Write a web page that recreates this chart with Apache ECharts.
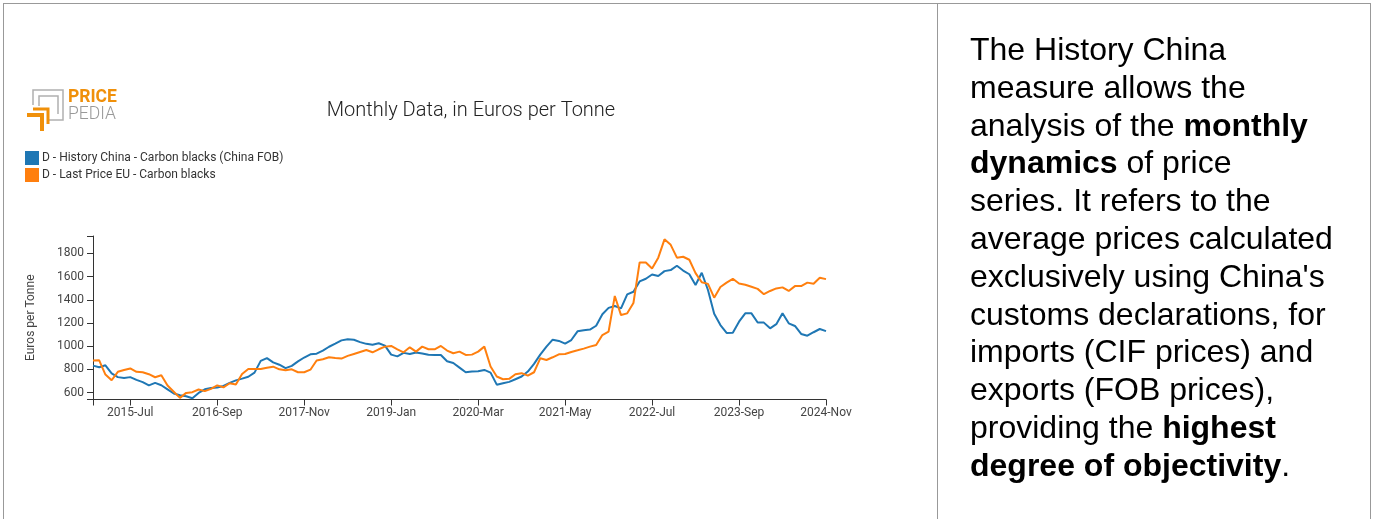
<!DOCTYPE html>
<html>
<head>
<meta charset="utf-8">
<script src="https://cdn.jsdelivr.net/npm/echarts@6/dist/echarts.min.js"></script>
<style>
  html, body { margin: 0; padding: 0; background: #fff; }
  #chart { position: absolute; left: 0; top: 0; width: 1374px; height: 519px; }
  .frame { position: absolute; left: 3px; top: 3px; width: 1366px; height: 600px;
    border-top: 1px solid #999; border-left: 1px solid #999; border-right: 1px solid #999; }
  .divider { position: absolute; left: 937px; top: 3px; width: 0; height: 600px; border-left: 1px solid #999; }
  .note { position: absolute; left: 970px; top: 31px; font-family: "Liberation Sans", Arial, sans-serif;
    font-size: 32px; line-height: 37.8px; color: #000; white-space: nowrap; }
</style>
</head>
<body>
<div id="chart"></div>
<div class="frame"></div>
<div class="divider"></div>
<div class="note">
The History China<br>
measure allows the<br>
analysis of the <b>monthly</b><br>
<b>dynamics</b> of price<br>
series. It refers to the<br>
average prices calculated<br>
exclusively using China's<br>
customs declarations, for<br>
imports (CIF prices) and<br>
exports (FOB prices),<br>
providing the <b>highest</b><br>
<b>degree of objectivity</b>.
</div>
<script>
// months 2015-Jan .. 2024-Nov
const monthNames = ['Jan', 'Feb', 'Mar', 'Apr', 'May', 'Jun', 'Jul', 'Aug', 'Sep', 'Oct', 'Nov', 'Dec']
const months = []
for (let y = 2015; y <= 2024; y++) {
  for (let m = 0; m < 12; m++) {
    if (y === 2024 && m > 10) break
    months.push(y + '-' + monthNames[m])
  }
}

const chinaFob = [
  832, 818, 835, 766, 733, 726, 733, 709, 690, 662, 683, 663,
  628, 592, 576, 568, 551, 597, 628, 640, 643, 657, 683, 705,
  720, 736, 772, 873, 897, 860, 840, 811, 830, 869, 902, 930,
  935, 961, 995, 1022, 1050, 1060, 1055, 1035, 1020, 1012, 1025, 1005,
  927, 912, 942, 933, 945, 937, 926, 924, 924, 870, 855, 815,
  775, 781, 783, 795, 772, 668, 680, 692, 715, 738, 781, 847,
  927, 996, 1056, 1045, 1022, 1053, 1128, 1138, 1143, 1176, 1275, 1330,
  1346, 1326, 1447, 1469, 1558, 1581, 1618, 1605, 1647, 1656, 1693, 1652,
  1620, 1527, 1633, 1484, 1280, 1182, 1114, 1116, 1211, 1283, 1283, 1204,
  1203, 1154, 1190, 1283, 1197, 1174, 1105, 1090, 1120, 1148, 1130
]

const lastPriceEu = [
  876, 878, 755, 706, 779, 795, 808, 779, 775, 758, 732, 749,
  660, 607, 554, 597, 603, 626, 612, 632, 662, 645, 680, 670,
  760, 803, 803, 803, 814, 823, 800, 793, 800, 775, 775, 797,
  876, 887, 904, 898, 893, 916, 933, 950, 967, 947, 973, 996,
  1002, 973, 947, 990, 953, 996, 973, 973, 1002, 962, 939, 953,
  924, 927, 953, 996, 824, 738, 715, 718, 758, 767, 746, 775,
  895, 881, 904, 930, 932, 950, 964, 979, 996, 1010, 1096, 1125,
  1433, 1268, 1283, 1372, 1722, 1722, 1670, 1763, 1921, 1874, 1763, 1771,
  1745, 1630, 1551, 1537, 1418, 1510, 1548, 1581, 1541, 1530, 1512, 1494,
  1448, 1476, 1498, 1507, 1476, 1518, 1518, 1548, 1538, 1590, 1578
]

const yTicks = [600, 800, 1000, 1200, 1400, 1600, 1800]
const seriesNames = [
  'D - History China - Carbon blacks (China FOB)',
  'D - Last Price EU - Carbon blacks'
]

const chart = echarts.init(document.getElementById('chart'))
const font = 'Roboto, sans-serif'
const showTick = idx => idx === 0 || (idx - 6) % 14 === 0

const option = {
  animation: false,
  backgroundColor: '#fff',
  color: ['#1f77b4', '#ff7f0e'],
  title: {
    text: 'Monthly Data, in Euros per Tonne',
    left: 471,
    top: 101,
    padding: 0,
    textAlign: 'center',
    textStyle: { fontFamily: font, fontSize: 20, fontWeight: 300, color: '#222' }
  },
  legend: {
    data: seriesNames,
    orient: 'vertical',
    left: 25,
    top: 151,
    padding: 0,
    icon: 'rect',
    itemWidth: 14,
    itemHeight: 14,
    itemGap: 3,
    textStyle: { fontFamily: font, fontSize: 12, color: '#333', padding: [0, 0, 0, -2] }
  },
  graphic: [
    // logo
    { type: 'polyline', shape: { points: [[33, 105], [33, 90], [63, 90], [63, 120], [47, 120]] },
      style: { stroke: '#b0b0b0', lineWidth: 1.5, fill: null } },
    { type: 'polyline', shape: { points: [[39, 106], [39, 96], [58, 96], [58, 114]] },
      style: { stroke: '#b0b0b0', lineWidth: 1.5, fill: null } },
    { type: 'polyline', shape: { points: [[27, 115], [42, 115], [42, 131]] },
      style: { stroke: '#f0900a', lineWidth: 4, fill: null } },
    { type: 'polyline', shape: { points: [[33, 109], [48, 109], [48, 124]] },
      style: { stroke: '#f0900a', lineWidth: 3, fill: null } },
    { type: 'text', left: 68, top: 89,
      style: { text: 'PRICE', fontFamily: font, fontSize: 17.5, fontWeight: 'bold', fill: '#f0900a' } },
    { type: 'text', left: 68, top: 106,
      style: { text: 'PEDIA', fontFamily: font, fontSize: 17.5, fontWeight: 300, fill: '#999' } }
  ],
  grid: { left: 93, right: 548, top: 236, bottom: 119.5 },
  xAxis: {
    type: 'category',
    data: months,
    boundaryGap: false,
    axisLine: { lineStyle: { color: '#333', width: 1 } },
    axisTick: { interval: showTick, length: 6, lineStyle: { color: '#333' } },
    axisLabel: {
      interval: idx => idx !== 0 && showTick(idx),
      margin: 7,
      fontFamily: font,
      fontSize: 12,
      color: '#444'
    },
    splitLine: { show: false }
  },
  yAxis: {
    type: 'value',
    min: 540,
    max: 1950,
    name: 'Euros per Tonne',
    nameLocation: 'middle',
    nameGap: 56,
    nameTextStyle: { fontFamily: font, fontSize: 12, color: '#444' },
    axisLine: { show: true, lineStyle: { color: '#333', width: 1 } },
    axisTick: { show: true, length: 6, customValues: [540].concat(yTicks, [1950]), lineStyle: { color: '#333' } },
    axisLabel: {
      customValues: yTicks,
      formatter: v => String(v),
      margin: 9,
      fontFamily: font,
      fontSize: 12,
      color: '#444'
    },
    splitLine: { show: false }
  },
  series: [
    {
      name: seriesNames[0],
      type: 'line',
      data: chinaFob,
      showSymbol: false,
      lineStyle: { width: 2 }
    },
    {
      name: seriesNames[1],
      type: 'line',
      data: lastPriceEu,
      showSymbol: false,
      lineStyle: { width: 2 }
    }
  ]
}

chart.setOption(option)
</script>
</body>
</html>
